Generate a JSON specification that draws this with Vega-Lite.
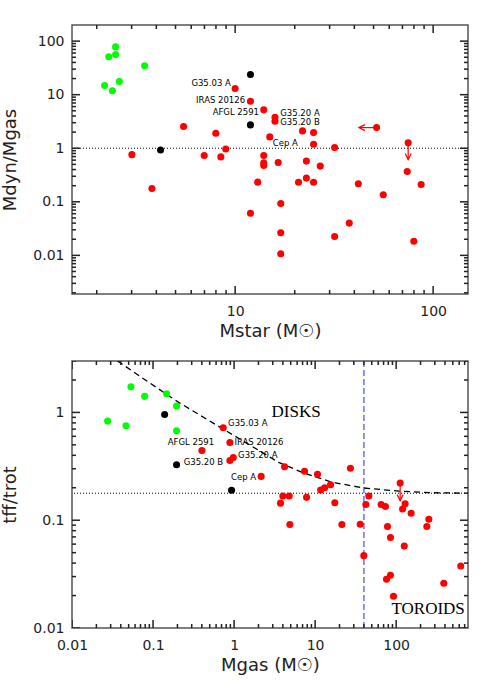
{
  "$schema": "https://vega.github.io/schema/vega-lite/v6.json",
  "padding": {"left": 1, "top": 24, "right": 20, "bottom": 5},
  "spacing": 18,
  "config": {
    "view": {"stroke": "#555", "strokeWidth": 1.5, "fill": "transparent"},
    "font": "DejaVu Sans",
    "tick": {"thickness": 1.5, "color": "#222", "opacity": 1},
    "axis": {
      "domain": false, "grid": false, "ticks": false,
      "labelFont": "DejaVu Sans", "labelFontSize": 14, "labelColor": "#222",
      "titleFont": "DejaVu Sans", "titleFontSize": 18, "titleFontWeight": "normal", "titleColor": "#222",
      "labelOverlap": false, "labelFlush": false, "format": "~g"
    }
  },
  "datasets": {
    "topPts": [
      {"mstar": 2.19, "ratio": 14.8, "group": "g1"},
      {"mstar": 2.30, "ratio": 51, "group": "g1"},
      {"mstar": 2.49, "ratio": 78, "group": "g1"},
      {"mstar": 2.49, "ratio": 56, "group": "g1"},
      {"mstar": 2.40, "ratio": 11.8, "group": "g1"},
      {"mstar": 2.60, "ratio": 17.6, "group": "g1"},
      {"mstar": 3.49, "ratio": 34.6, "group": "g1"},
      {"mstar": 11.95, "ratio": 23.8, "group": "g2"},
      {"mstar": 11.95, "ratio": 2.73, "group": "g2"},
      {"mstar": 4.20, "ratio": 0.93, "group": "g2"},
      {"mstar": 10.0, "ratio": 13.0, "group": "g3"},
      {"mstar": 11.95, "ratio": 7.56, "group": "g3"},
      {"mstar": 13.95, "ratio": 5.21, "group": "g3"},
      {"mstar": 15.9, "ratio": 3.80, "group": "g3"},
      {"mstar": 15.9, "ratio": 3.2, "group": "g3"},
      {"mstar": 5.49, "ratio": 2.54, "group": "g3"},
      {"mstar": 7.99, "ratio": 1.91, "group": "g3"},
      {"mstar": 14.96, "ratio": 1.63, "group": "g3"},
      {"mstar": 21.9, "ratio": 2.11, "group": "g3"},
      {"mstar": 24.9, "ratio": 1.96, "group": "g3"},
      {"mstar": 24.9, "ratio": 1.19, "group": "g3"},
      {"mstar": 31.8, "ratio": 1.03, "group": "g3"},
      {"mstar": 51.8, "ratio": 2.43, "group": "g3"},
      {"mstar": 74.8, "ratio": 1.26, "group": "g3"},
      {"mstar": 3.01, "ratio": 0.76, "group": "g3"},
      {"mstar": 6.98, "ratio": 0.73, "group": "g3"},
      {"mstar": 8.47, "ratio": 0.69, "group": "g3"},
      {"mstar": 8.97, "ratio": 0.97, "group": "g3"},
      {"mstar": 13.95, "ratio": 0.73, "group": "g3"},
      {"mstar": 13.95, "ratio": 0.536, "group": "g3"},
      {"mstar": 13.95, "ratio": 0.478, "group": "g3"},
      {"mstar": 16.5, "ratio": 0.543, "group": "g3"},
      {"mstar": 22.9, "ratio": 0.575, "group": "g3"},
      {"mstar": 26.9, "ratio": 0.464, "group": "g3"},
      {"mstar": 3.80, "ratio": 0.177, "group": "g3"},
      {"mstar": 13.0, "ratio": 0.233, "group": "g3"},
      {"mstar": 20.9, "ratio": 0.231, "group": "g3"},
      {"mstar": 22.9, "ratio": 0.277, "group": "g3"},
      {"mstar": 24.9, "ratio": 0.231, "group": "g3"},
      {"mstar": 41.9, "ratio": 0.217, "group": "g3"},
      {"mstar": 74.0, "ratio": 0.369, "group": "g3"},
      {"mstar": 87.0, "ratio": 0.211, "group": "g3"},
      {"mstar": 17.0, "ratio": 0.093, "group": "g3"},
      {"mstar": 56.0, "ratio": 0.135, "group": "g3"},
      {"mstar": 11.95, "ratio": 0.061, "group": "g3"},
      {"mstar": 37.7, "ratio": 0.040, "group": "g3"},
      {"mstar": 31.8, "ratio": 0.0225, "group": "g3"},
      {"mstar": 17.0, "ratio": 0.0264, "group": "g3"},
      {"mstar": 17.0, "ratio": 0.0107, "group": "g3"},
      {"mstar": 79.9, "ratio": 0.0184, "group": "g3"}
    ],
    "topLabels": [
      {"name": "G35.03 A", "mstar": 9.51, "ratio": 16.6, "anchor": "end"},
      {"name": "IRAS 20126", "mstar": 11.23, "ratio": 7.89, "anchor": "end"},
      {"name": "AFGL 2591", "mstar": 13.2, "ratio": 4.71, "anchor": "end"},
      {"name": "G35.20 A", "mstar": 16.9, "ratio": 4.55, "anchor": "start"},
      {"name": "G35.20 B", "mstar": 16.9, "ratio": 3.05, "anchor": "start"},
      {"name": "Cep A", "mstar": 15.5, "ratio": 1.28, "anchor": "start"}
    ],
    "topArrows": [
      {"mstar": 51.8, "mstar2": 42.2, "ratio": 2.43, "ratio2": 2.43, "dir": "left"},
      {"mstar": 74.8, "mstar2": 74.8, "ratio": 1.26, "ratio2": 0.615, "dir": "down"}
    ],
    "topRef": [{"ratio": 1}],
    "topXTicks": [
      {"v": 10, "kind": "major"}, {"v": 100, "kind": "major"},
      {"v": 2, "kind": "minor"}, {"v": 3, "kind": "minor"}, {"v": 4, "kind": "minor"}, {"v": 5, "kind": "minor"},
      {"v": 6, "kind": "minor"}, {"v": 7, "kind": "minor"}, {"v": 8, "kind": "minor"}, {"v": 9, "kind": "minor"},
      {"v": 20, "kind": "minor"}, {"v": 30, "kind": "minor"}, {"v": 40, "kind": "minor"}, {"v": 50, "kind": "minor"},
      {"v": 60, "kind": "minor"}, {"v": 70, "kind": "minor"}, {"v": 80, "kind": "minor"}, {"v": 90, "kind": "minor"}
    ],
    "topYTicks": [
      {"v": 0.01, "kind": "major"}, {"v": 0.1, "kind": "major"}, {"v": 1, "kind": "major"}, {"v": 10, "kind": "major"}, {"v": 100, "kind": "major"},
      {"v": 0.002, "kind": "minor"}, {"v": 0.003, "kind": "minor"}, {"v": 0.004, "kind": "minor"}, {"v": 0.005, "kind": "minor"},
      {"v": 0.006, "kind": "minor"}, {"v": 0.007, "kind": "minor"}, {"v": 0.008, "kind": "minor"}, {"v": 0.009, "kind": "minor"},
      {"v": 0.02, "kind": "minor"}, {"v": 0.03, "kind": "minor"}, {"v": 0.04, "kind": "minor"}, {"v": 0.05, "kind": "minor"},
      {"v": 0.06, "kind": "minor"}, {"v": 0.07, "kind": "minor"}, {"v": 0.08, "kind": "minor"}, {"v": 0.09, "kind": "minor"},
      {"v": 0.2, "kind": "minor"}, {"v": 0.3, "kind": "minor"}, {"v": 0.4, "kind": "minor"}, {"v": 0.5, "kind": "minor"},
      {"v": 0.6, "kind": "minor"}, {"v": 0.7, "kind": "minor"}, {"v": 0.8, "kind": "minor"}, {"v": 0.9, "kind": "minor"},
      {"v": 2, "kind": "minor"}, {"v": 3, "kind": "minor"}, {"v": 4, "kind": "minor"}, {"v": 5, "kind": "minor"},
      {"v": 6, "kind": "minor"}, {"v": 7, "kind": "minor"}, {"v": 8, "kind": "minor"}, {"v": 9, "kind": "minor"},
      {"v": 20, "kind": "minor"}, {"v": 30, "kind": "minor"}, {"v": 40, "kind": "minor"}, {"v": 50, "kind": "minor"},
      {"v": 60, "kind": "minor"}, {"v": 70, "kind": "minor"}, {"v": 80, "kind": "minor"}, {"v": 90, "kind": "minor"}
    ],
    "botPts": [
      {"mgas": 0.0275, "t": 0.831, "group": "g1"},
      {"mgas": 0.0534, "t": 1.73, "group": "g1"},
      {"mgas": 0.0464, "t": 0.752, "group": "g1"},
      {"mgas": 0.0787, "t": 1.41, "group": "g1"},
      {"mgas": 0.147, "t": 1.49, "group": "g1"},
      {"mgas": 0.195, "t": 1.145, "group": "g1"},
      {"mgas": 0.195, "t": 0.675, "group": "g1"},
      {"mgas": 0.139, "t": 0.958, "group": "g2"},
      {"mgas": 0.195, "t": 0.327, "group": "g2"},
      {"mgas": 0.931, "t": 0.190, "group": "g2"},
      {"mgas": 0.735, "t": 0.721, "group": "g3"},
      {"mgas": 0.888, "t": 0.526, "group": "g3"},
      {"mgas": 0.401, "t": 0.444, "group": "g3"},
      {"mgas": 0.888, "t": 0.358, "group": "g3"},
      {"mgas": 0.977, "t": 0.382, "group": "g3"},
      {"mgas": 2.16, "t": 0.255, "group": "g3"},
      {"mgas": 4.20, "t": 0.313, "group": "g3"},
      {"mgas": 7.41, "t": 0.285, "group": "g3"},
      {"mgas": 10.7, "t": 0.267, "group": "g3"},
      {"mgas": 27.3, "t": 0.304, "group": "g3"},
      {"mgas": 11.7, "t": 0.191, "group": "g3"},
      {"mgas": 13.1, "t": 0.200, "group": "g3"},
      {"mgas": 15.5, "t": 0.213, "group": "g3"},
      {"mgas": 112, "t": 0.221, "group": "g3"},
      {"mgas": 4.0, "t": 0.168, "group": "g3"},
      {"mgas": 4.79, "t": 0.168, "group": "g3"},
      {"mgas": 7.84, "t": 0.163, "group": "g3"},
      {"mgas": 46.0, "t": 0.168, "group": "g3"},
      {"mgas": 3.74, "t": 0.144, "group": "g3"},
      {"mgas": 17.5, "t": 0.145, "group": "g3"},
      {"mgas": 42.3, "t": 0.140, "group": "g3"},
      {"mgas": 65.3, "t": 0.140, "group": "g3"},
      {"mgas": 73.8, "t": 0.134, "group": "g3"},
      {"mgas": 129, "t": 0.142, "group": "g3"},
      {"mgas": 120, "t": 0.127, "group": "g3"},
      {"mgas": 153, "t": 0.116, "group": "g3"},
      {"mgas": 253, "t": 0.102, "group": "g3"},
      {"mgas": 4.88, "t": 0.0912, "group": "g3"},
      {"mgas": 21.4, "t": 0.0912, "group": "g3"},
      {"mgas": 36.0, "t": 0.0918, "group": "g3"},
      {"mgas": 78.2, "t": 0.0874, "group": "g3"},
      {"mgas": 239, "t": 0.0874, "group": "g3"},
      {"mgas": 85.1, "t": 0.0692, "group": "g3"},
      {"mgas": 126, "t": 0.0575, "group": "g3"},
      {"mgas": 39.9, "t": 0.0469, "group": "g3"},
      {"mgas": 627, "t": 0.0376, "group": "g3"},
      {"mgas": 387, "t": 0.026, "group": "g3"},
      {"mgas": 85.1, "t": 0.0309, "group": "g3"},
      {"mgas": 76.0, "t": 0.0283, "group": "g3"},
      {"mgas": 92.7, "t": 0.0197, "group": "g3"}
    ],
    "botLabels": [
      {"name": "G35.03 A", "mgas": 0.843, "t": 0.796, "anchor": "start"},
      {"name": "IRAS 20126", "mgas": 1.009, "t": 0.527, "anchor": "start"},
      {"name": "G35.20 A", "mgas": 1.12, "t": 0.403, "anchor": "start"},
      {"name": "G35.20 B", "mgas": 0.239, "t": 0.349, "anchor": "start"},
      {"name": "AFGL 2591", "mgas": 0.294, "t": 0.527, "anchor": "middle"},
      {"name": "Cep A", "mgas": 1.87, "t": 0.253, "anchor": "end"}
    ],
    "botNotes": [
      {"note": "DISKS", "mgas": 5.82, "t": 1.0},
      {"note": "TOROIDS", "mgas": 248, "t": 0.0151}
    ],
    "botArrows": [
      {"mgas": 112, "mgas2": 112, "t": 0.221, "t2": 0.152, "dir": "down"}
    ],
    "botRef": [{"t": 0.178}],
    "botLimit": [{"mgas": 40}],
    "curve": [
      {"mgas": 0.0365, "t": 3.0},
      {"mgas": 0.0804, "t": 2.0},
      {"mgas": 0.207, "t": 1.24},
      {"mgas": 0.535, "t": 0.808},
      {"mgas": 1.38, "t": 0.527},
      {"mgas": 3.56, "t": 0.344},
      {"mgas": 6.92, "t": 0.278},
      {"mgas": 16.2, "t": 0.225},
      {"mgas": 40, "t": 0.199},
      {"mgas": 108, "t": 0.186},
      {"mgas": 278, "t": 0.180},
      {"mgas": 770, "t": 0.178}
    ],
    "botXTicks": [
      {"v": 0.01, "kind": "major"}, {"v": 0.1, "kind": "major"}, {"v": 1, "kind": "major"}, {"v": 10, "kind": "major"}, {"v": 100, "kind": "major"},
      {"v": 0.02, "kind": "minor"}, {"v": 0.03, "kind": "minor"}, {"v": 0.04, "kind": "minor"}, {"v": 0.05, "kind": "minor"},
      {"v": 0.06, "kind": "minor"}, {"v": 0.07, "kind": "minor"}, {"v": 0.08, "kind": "minor"}, {"v": 0.09, "kind": "minor"},
      {"v": 0.2, "kind": "minor"}, {"v": 0.3, "kind": "minor"}, {"v": 0.4, "kind": "minor"}, {"v": 0.5, "kind": "minor"},
      {"v": 0.6, "kind": "minor"}, {"v": 0.7, "kind": "minor"}, {"v": 0.8, "kind": "minor"}, {"v": 0.9, "kind": "minor"},
      {"v": 2, "kind": "minor"}, {"v": 3, "kind": "minor"}, {"v": 4, "kind": "minor"}, {"v": 5, "kind": "minor"},
      {"v": 6, "kind": "minor"}, {"v": 7, "kind": "minor"}, {"v": 8, "kind": "minor"}, {"v": 9, "kind": "minor"},
      {"v": 20, "kind": "minor"}, {"v": 30, "kind": "minor"}, {"v": 40, "kind": "minor"}, {"v": 50, "kind": "minor"},
      {"v": 60, "kind": "minor"}, {"v": 70, "kind": "minor"}, {"v": 80, "kind": "minor"}, {"v": 90, "kind": "minor"},
      {"v": 200, "kind": "minor"}, {"v": 300, "kind": "minor"}, {"v": 400, "kind": "minor"}, {"v": 500, "kind": "minor"},
      {"v": 600, "kind": "minor"}, {"v": 700, "kind": "minor"}
    ],
    "botYTicks": [
      {"v": 0.01, "kind": "major"}, {"v": 0.1, "kind": "major"}, {"v": 1, "kind": "major"},
      {"v": 0.02, "kind": "minor"}, {"v": 0.03, "kind": "minor"}, {"v": 0.04, "kind": "minor"}, {"v": 0.05, "kind": "minor"},
      {"v": 0.06, "kind": "minor"}, {"v": 0.07, "kind": "minor"}, {"v": 0.08, "kind": "minor"}, {"v": 0.09, "kind": "minor"},
      {"v": 0.2, "kind": "minor"}, {"v": 0.3, "kind": "minor"}, {"v": 0.4, "kind": "minor"}, {"v": 0.5, "kind": "minor"},
      {"v": 0.6, "kind": "minor"}, {"v": 0.7, "kind": "minor"}, {"v": 0.8, "kind": "minor"}, {"v": 0.9, "kind": "minor"},
      {"v": 2, "kind": "minor"}, {"v": 3, "kind": "minor"}
    ]
  },
  "vconcat": [
    {
      "width": 396, "height": 269,
      "resolve": {"axis": {"x": "independent", "y": "independent"}},
      "layer": [
        {
          "data": {"name": "topRef"},
          "mark": {"type": "rule", "color": "#000", "strokeWidth": 1, "strokeDash": [1, 2]},
          "encoding": {
            "y": {"field": "ratio", "type": "quantitative", "scale": {"type": "log", "domain": [0.0019, 200], "nice": false}, "axis": null}
          }
        },
        {
          "data": {"name": "topArrows"},
          "mark": {"type": "rule", "color": "#ff0000", "strokeWidth": 1.2},
          "encoding": {
            "x": {"field": "mstar", "type": "quantitative", "scale": {"type": "log", "domain": [1.5, 150], "nice": false}, "axis": null},
            "x2": {"field": "mstar2"},
            "y": {"field": "ratio", "type": "quantitative", "axis": null},
            "y2": {"field": "ratio2"}
          }
        },
        {
          "data": {"name": "topArrows"},
          "mark": {"type": "point", "filled": false, "color": "#ff0000", "strokeWidth": 1.2, "size": 36, "opacity": 1},
          "encoding": {
            "x": {"field": "mstar2", "type": "quantitative", "axis": null},
            "y": {"field": "ratio2", "type": "quantitative", "axis": null},
            "shape": {"field": "dir", "type": "nominal", "scale": {"domain": ["left", "down"], "range": ["M2,-1L0,0L2,1", "M-1,-2L0,0L1,-2"]}, "legend": null}
          }
        },
        {
          "data": {"name": "topXTicks"},
          "mark": {"type": "tick", "orient": "vertical", "clip": true},
          "encoding": {
            "x": {"field": "v", "type": "quantitative", "axis": null},
            "y": {"datum": 0.0019, "type": "quantitative", "axis": null},
            "size": {"field": "kind", "type": "nominal", "scale": {"type": "ordinal", "domain": ["major", "minor"], "range": [16, 8]}, "legend": null}
          }
        },
        {
          "data": {"name": "topXTicks"},
          "mark": {"type": "tick", "orient": "vertical", "clip": true},
          "encoding": {
            "x": {"field": "v", "type": "quantitative", "axis": null},
            "y": {"datum": 200, "type": "quantitative", "axis": null},
            "size": {"field": "kind", "type": "nominal", "scale": {"type": "ordinal", "domain": ["major", "minor"], "range": [16, 8]}, "legend": null}
          }
        },
        {
          "data": {"name": "topYTicks"},
          "mark": {"type": "tick", "orient": "horizontal", "clip": true},
          "encoding": {
            "y": {"field": "v", "type": "quantitative", "axis": null},
            "x": {"datum": 1.5, "type": "quantitative", "axis": null},
            "size": {"field": "kind", "type": "nominal", "scale": {"type": "ordinal", "domain": ["major", "minor"], "range": [16, 8]}, "legend": null}
          }
        },
        {
          "data": {"name": "topYTicks"},
          "mark": {"type": "tick", "orient": "horizontal", "clip": true},
          "encoding": {
            "y": {"field": "v", "type": "quantitative", "axis": null},
            "x": {"datum": 150, "type": "quantitative", "axis": null},
            "size": {"field": "kind", "type": "nominal", "scale": {"type": "ordinal", "domain": ["major", "minor"], "range": [16, 8]}, "legend": null}
          }
        },
        {
          "data": {"name": "topPts"},
          "mark": {"type": "circle", "size": 50, "opacity": 1},
          "encoding": {
            "x": {"field": "mstar", "type": "quantitative",
              "axis": {"orient": "bottom", "title": "Mstar (M☉)", "values": [10, 100], "labelPadding": 10, "titlePadding": 4}},
            "y": {"field": "ratio", "type": "quantitative",
              "axis": {"orient": "left", "title": "Mdyn/Mgas", "values": [0.01, 0.1, 1, 10, 100], "labelPadding": 8, "titlePadding": 13}},
            "color": {"field": "group", "type": "nominal", "scale": {"domain": ["g1", "g2", "g3"], "range": ["#00ff00", "#000000", "#ff0000"]}, "legend": null}
          }
        },
        {
          "data": {"name": "topLabels"},
          "transform": [{"filter": "datum.anchor == 'end'"}],
          "mark": {"type": "text", "align": "right", "baseline": "middle", "font": "DejaVu Sans", "fontSize": 8.5, "color": "#000"},
          "encoding": {
            "x": {"field": "mstar", "type": "quantitative", "axis": null},
            "y": {"field": "ratio", "type": "quantitative", "axis": null},
            "text": {"field": "name"}
          }
        },
        {
          "data": {"name": "topLabels"},
          "transform": [{"filter": "datum.anchor == 'start'"}],
          "mark": {"type": "text", "align": "left", "baseline": "middle", "font": "DejaVu Sans", "fontSize": 8.5, "color": "#000"},
          "encoding": {
            "x": {"field": "mstar", "type": "quantitative", "axis": null},
            "y": {"field": "ratio", "type": "quantitative", "axis": null},
            "text": {"field": "name"}
          }
        }
      ]
    },
    {
      "width": 396, "height": 267,
      "resolve": {"axis": {"x": "independent", "y": "independent"}},
      "layer": [
        {
          "data": {"name": "botRef"},
          "mark": {"type": "rule", "color": "#000", "strokeWidth": 1, "strokeDash": [1, 2]},
          "encoding": {
            "y": {"field": "t", "type": "quantitative", "scale": {"type": "log", "domain": [0.01, 3], "nice": false}, "axis": null}
          }
        },
        {
          "data": {"name": "botLimit"},
          "mark": {"type": "rule", "color": "#4b5bf5", "strokeWidth": 1.3, "strokeDash": [6, 3]},
          "encoding": {
            "x": {"field": "mgas", "type": "quantitative", "scale": {"type": "log", "domain": [0.01, 770], "nice": false}, "axis": null}
          }
        },
        {
          "data": {"name": "curve"},
          "mark": {"type": "line", "color": "#000", "strokeWidth": 1.3, "strokeDash": [6, 4], "clip": true},
          "encoding": {
            "x": {"field": "mgas", "type": "quantitative", "axis": null},
            "y": {"field": "t", "type": "quantitative", "axis": null}
          }
        },
        {
          "data": {"name": "botArrows"},
          "mark": {"type": "rule", "color": "#ff0000", "strokeWidth": 1.2},
          "encoding": {
            "x": {"field": "mgas", "type": "quantitative", "axis": null},
            "x2": {"field": "mgas2"},
            "y": {"field": "t", "type": "quantitative", "axis": null},
            "y2": {"field": "t2"}
          }
        },
        {
          "data": {"name": "botArrows"},
          "mark": {"type": "point", "filled": false, "color": "#ff0000", "strokeWidth": 1.2, "size": 36, "opacity": 1},
          "encoding": {
            "x": {"field": "mgas2", "type": "quantitative", "axis": null},
            "y": {"field": "t2", "type": "quantitative", "axis": null},
            "shape": {"field": "dir", "type": "nominal", "scale": {"domain": ["left", "down"], "range": ["M2,-1L0,0L2,1", "M-1,-2L0,0L1,-2"]}, "legend": null}
          }
        },
        {
          "data": {"name": "botXTicks"},
          "mark": {"type": "tick", "orient": "vertical", "clip": true},
          "encoding": {
            "x": {"field": "v", "type": "quantitative", "axis": null},
            "y": {"datum": 0.01, "type": "quantitative", "axis": null},
            "size": {"field": "kind", "type": "nominal", "scale": {"type": "ordinal", "domain": ["major", "minor"], "range": [16, 8]}, "legend": null}
          }
        },
        {
          "data": {"name": "botXTicks"},
          "mark": {"type": "tick", "orient": "vertical", "clip": true},
          "encoding": {
            "x": {"field": "v", "type": "quantitative", "axis": null},
            "y": {"datum": 3, "type": "quantitative", "axis": null},
            "size": {"field": "kind", "type": "nominal", "scale": {"type": "ordinal", "domain": ["major", "minor"], "range": [16, 8]}, "legend": null}
          }
        },
        {
          "data": {"name": "botYTicks"},
          "mark": {"type": "tick", "orient": "horizontal", "clip": true},
          "encoding": {
            "y": {"field": "v", "type": "quantitative", "axis": null},
            "x": {"datum": 0.01, "type": "quantitative", "axis": null},
            "size": {"field": "kind", "type": "nominal", "scale": {"type": "ordinal", "domain": ["major", "minor"], "range": [16, 8]}, "legend": null}
          }
        },
        {
          "data": {"name": "botYTicks"},
          "mark": {"type": "tick", "orient": "horizontal", "clip": true},
          "encoding": {
            "y": {"field": "v", "type": "quantitative", "axis": null},
            "x": {"datum": 770, "type": "quantitative", "axis": null},
            "size": {"field": "kind", "type": "nominal", "scale": {"type": "ordinal", "domain": ["major", "minor"], "range": [16, 8]}, "legend": null}
          }
        },
        {
          "data": {"name": "botPts"},
          "mark": {"type": "circle", "size": 50, "opacity": 1},
          "encoding": {
            "x": {"field": "mgas", "type": "quantitative",
              "axis": {"orient": "bottom", "title": "Mgas (M☉)", "values": [0.01, 0.1, 1, 10, 100], "labelPadding": 10, "titlePadding": 4}},
            "y": {"field": "t", "type": "quantitative",
              "axis": {"orient": "left", "title": "tff/trot", "values": [0.01, 0.1, 1], "labelPadding": 8, "titlePadding": 13}},
            "color": {"field": "group", "type": "nominal", "scale": {"domain": ["g1", "g2", "g3"], "range": ["#00ff00", "#000000", "#ff0000"]}, "legend": null}
          }
        },
        {
          "data": {"name": "botLabels"},
          "transform": [{"filter": "datum.anchor == 'start'"}],
          "mark": {"type": "text", "align": "left", "baseline": "middle", "font": "DejaVu Sans", "fontSize": 8.5, "color": "#000"},
          "encoding": {
            "x": {"field": "mgas", "type": "quantitative", "axis": null},
            "y": {"field": "t", "type": "quantitative", "axis": null},
            "text": {"field": "name"}
          }
        },
        {
          "data": {"name": "botLabels"},
          "transform": [{"filter": "datum.anchor == 'middle'"}],
          "mark": {"type": "text", "align": "center", "baseline": "middle", "font": "DejaVu Sans", "fontSize": 8.5, "color": "#000"},
          "encoding": {
            "x": {"field": "mgas", "type": "quantitative", "axis": null},
            "y": {"field": "t", "type": "quantitative", "axis": null},
            "text": {"field": "name"}
          }
        },
        {
          "data": {"name": "botLabels"},
          "transform": [{"filter": "datum.anchor == 'end'"}],
          "mark": {"type": "text", "align": "right", "baseline": "middle", "font": "DejaVu Sans", "fontSize": 8.5, "color": "#000"},
          "encoding": {
            "x": {"field": "mgas", "type": "quantitative", "axis": null},
            "y": {"field": "t", "type": "quantitative", "axis": null},
            "text": {"field": "name"}
          }
        },
        {
          "data": {"name": "botNotes"},
          "mark": {"type": "text", "align": "center", "baseline": "middle", "font": "Liberation Serif", "fontSize": 17, "color": "#000"},
          "encoding": {
            "x": {"field": "mgas", "type": "quantitative", "axis": null},
            "y": {"field": "t", "type": "quantitative", "axis": null},
            "text": {"field": "note"}
          }
        }
      ]
    }
  ]
}
